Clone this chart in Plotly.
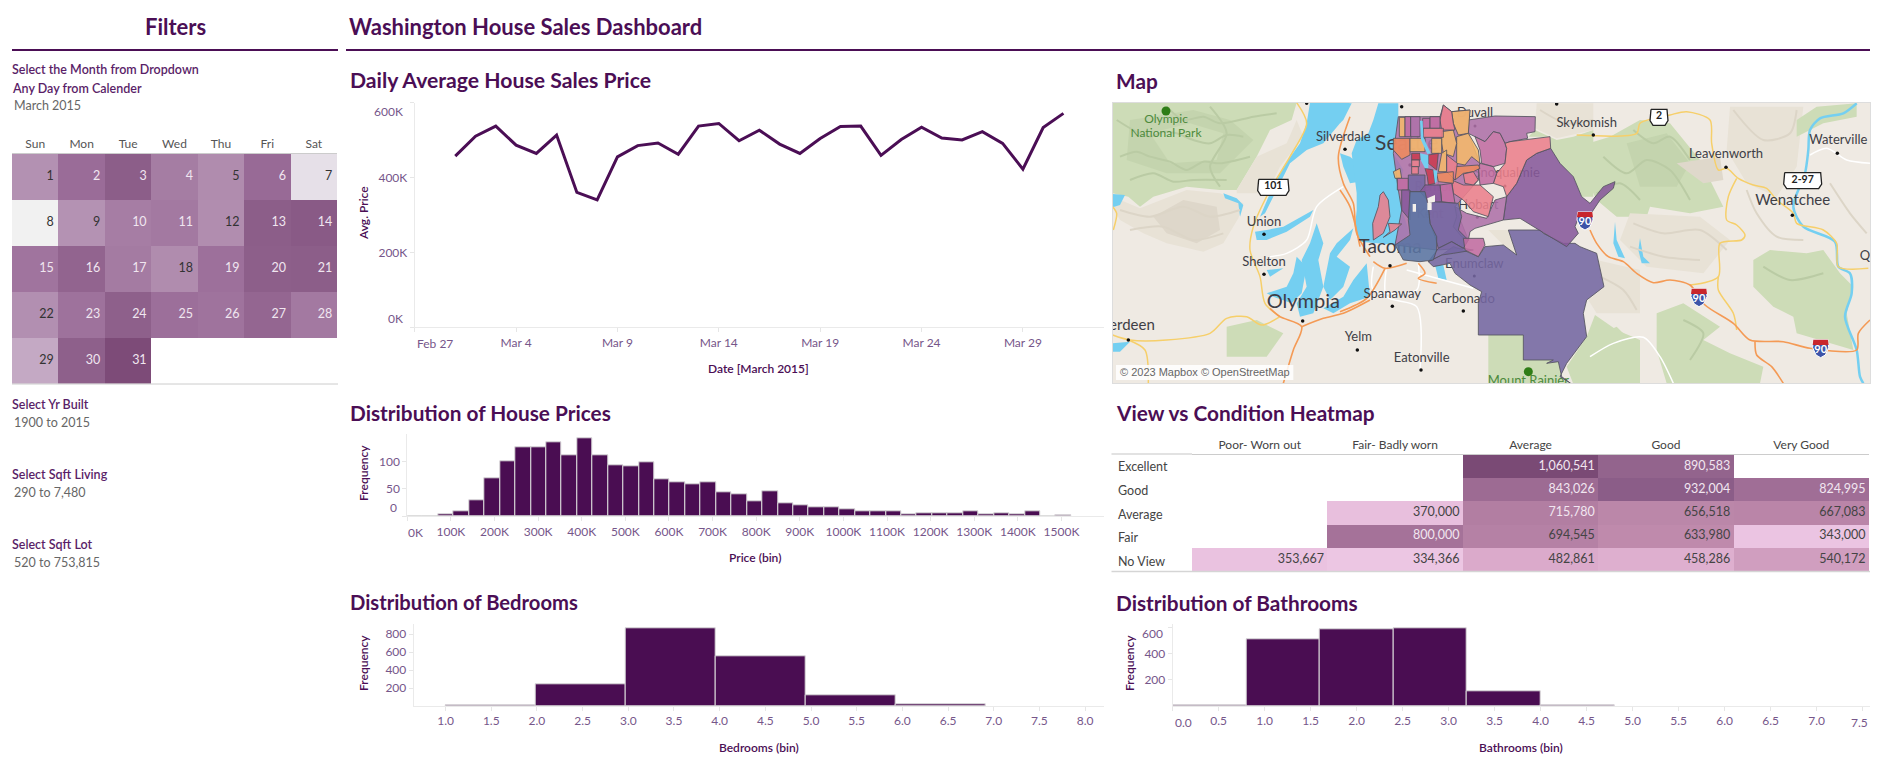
import plotly.graph_objects as go

# ---------- page size / palette ----------
W, H = 1881, 774
PURPLE = "#4B0E55"
TICK = "#76568A"
FONT = "Lato"

# ---------- data ----------
days = list(range(1, 32))
avg_price = [457, 510, 537, 486, 464, 513, 360, 340, 455, 485, 492, 462, 537, 544, 498, 526,
             489, 464, 504, 536, 537, 459, 501, 534, 505, 500, 522, 491, 422, 533, 571]
dark_text_days = [1, 5, 7, 8, 9, 12, 18, 22, 29]
weekdays = ["Sun", "Mon", "Tue", "Wed", "Thu", "Fri", "Sat"]
line_tick_dates = ["2015-02-27", "2015-03-04", "2015-03-09", "2015-03-14", "2015-03-19", "2015-03-24", "2015-03-29"]
line_tick_text = ["", "Mar 4", "Mar 9", "Mar 14", "Mar 19", "Mar 24", "Mar 29"]

price_bin = 35.4
price_counts = [0, 0, 3, 9, 29, 69, 100, 127, 127, 135, 111, 142, 111, 93, 91, 98, 67, 62, 58, 63, 43, 40,
                27, 45, 23, 20, 16, 16, 12, 9, 10, 10, 3, 5, 5, 5, 9, 3, 5, 3, 9, 0, 1]
price_ticks = [0, 100, 200, 300, 400, 500, 600, 700, 800, 900, 1000, 1100, 1200, 1300, 1400, 1500]

bedroom_bin = 0.985
bedroom_counts = [10, 240, 863, 552, 118, 18]
bedroom_ticks = [1.0, 1.5, 2.0, 2.5, 3.0, 3.5, 4.0, 4.5, 5.0, 5.5, 6.0, 6.5, 7.0, 7.5, 8.0]

bathroom_bin = 0.8
bathroom_counts = [4, 513, 587, 595, 110, 4]
bathroom_ticks = [0.0, 0.5, 1.0, 1.5, 2.0, 2.5, 3.0, 3.5, 4.0, 4.5, 5.0, 5.5, 6.0, 6.5, 7.0, 7.5]

conditions = ["Poor- Worn out", "Fair- Badly worn", "Average", "Good", "Very Good"]
views = ["Excellent", "Good", "Average", "Fair", "No View"]
heat_values = [
    [None, None, 1060541, 890583, None],
    [None, None, 843026, 932004, 824995],
    [None, 370000, 715780, 656518, 667083],
    [None, 800000, 694545, 633980, 343000],
    [353667, 334366, 482861, 458286, 540172],
]
heat_light_text = [1060541, 890583, 843026, 932004, 824995, 715780, 800000]

filter_labels = [("Select the Month from Dropdown", 70), ("Any Day from Calender", 88),
                 ("Select Yr Built", 404), ("Select Sqft Living", 474), ("Select Sqft Lot", 544)]
filter_values = [("March 2015", 106), ("1900 to 2015", 422), ("290 to 7,480", 492), ("520 to 753,815", 562)]

CROP_W = (1110, 100)
CROP_C = (1340, 100)
CROP_S = (1340, 230)
CROP_E = (1590, 100)
LAND, GREEN, GREEN2, SHADE, WATER = "#EFEAE3", "#CDDCB7", "#C4D4AE", "#E8E2D6", "#74CFF1"
ORANGE_ROAD, YELLOW_ROAD = "#F49A55", "#F6CF6A"

map_base = [
    (CROP_W, LAND, [(8, 8), (2400, 8), (2400, 860), (8, 860)]),
    (CROP_W, GREEN, [(8, 8), (560, 8), (545, 60), (480, 90), (440, 170), (380, 270), (330, 270), (230, 260), (130, 290), (90, 320), (55, 290), (8, 280)]),
    (CROP_W, GREEN2, [(60, 60), (250, 30), (360, 60), (430, 120), (330, 220), (170, 220), (50, 180)]),
    (CROP_W, GREEN, [(120, 100), (240, 70), (340, 100), (320, 180), (180, 190)]),
    (CROP_W, SHADE, [(440, 170), (530, 130), (560, 60), (580, 110), (510, 200), (470, 280), (380, 280), (380, 270)]),
    (CROP_W, SHADE, [(8, 290), (90, 325), (230, 270), (330, 280), (400, 310), (385, 355), (340, 430), (280, 455), (170, 430), (100, 400), (30, 360), (8, 320)]),
    (CROP_W, "#DED7CA", [(130, 350), (220, 300), (320, 320), (330, 390), (260, 430), (170, 400)]),
    (CROP_W, GREEN, [(350, 680), (440, 660), (520, 700), (470, 770), (350, 770)]),
    (CROP_E, GREEN, [(-70, 150), (60, 110), (150, 60), (240, 70), (330, 180), (400, 320), (300, 340), (180, 320), (170, 350), (80, 350), (20, 300), (-30, 200)]),
    (CROP_E, GREEN2, [(110, 130), (230, 100), (300, 190), (260, 260), (150, 260)]),
    (CROP_E, "#DFD8CB", [(260, 190), (390, 170), (400, 240), (340, 250)]),
    (CROP_E, SHADE, [(120, 340), (330, 350), (420, 420), (340, 520), (170, 500), (90, 420)]),
    (CROP_E, SHADE, [(420, 20), (640, 20), (620, 200), (560, 290), (470, 250), (410, 150)]),
    (CROP_E, GREEN, [(-10, 720), (80, 680), (120, 720), (60, 850), (-10, 850)]),
    (CROP_E, GREEN, [(200, 640), (280, 610), (390, 680), (340, 720), (420, 760), (520, 800), (510, 850), (230, 850), (200, 750)]),
    (CROP_E, GREEN, [(490, 480), (540, 450), (650, 460), (700, 450), (750, 520), (790, 560), (770, 640), (790, 750), (620, 700), (610, 650), (550, 620), (490, 560)]),
    (CROP_E, GREEN, [(620, 60), (680, 20), (800, 10), (800, 50), (700, 70), (660, 90), (620, 110)]),
    (CROP_C, GREEN, [(585, 90), (650, 120), (700, 110), (760, 90), (760, 290), (725, 290), (700, 230), (660, 190), (632, 145), (632, 110), (565, 110)]),
    (CROP_C, SHADE, [(590, 10), (760, 10), (760, 90), (650, 115), (585, 85)]),
    (CROP_S, GREEN, [(445, 315), (550, 315), (550, 390), (640, 390), (620, 400), (655, 395), (665, 440), (690, 462), (445, 462)]),
    (CROP_S, GREEN, [(680, 410), (740, 320), (765, 255), (830, 300), (900, 330), (900, 462), (700, 462)]),
    (CROP_S, SHADE, [(770, 90), (900, 120), (900, 250), (770, 250), (745, 210), (795, 170)]),
    (CROP_S, SHADE, [(445, 0), (505, 0), (530, 75), (490, 45)]),
    (CROP_W, WATER, [(600, 8), (720, 8), (690, 70), (640, 130), (590, 150), (540, 190), (500, 270), (465, 340), (450, 350), (480, 280), (520, 200), (570, 130), (590, 70)]),
    (CROP_W, WATER, [(435, 395), (470, 390), (520, 380), (610, 330), (600, 350), (530, 395), (470, 420), (440, 420)]),
    (CROP_W, WATER, [(620, 370), (640, 430), (625, 480), (640, 560), (625, 600), (610, 640), (570, 650), (560, 610), (590, 560), (575, 480), (600, 430)]),
    (CROP_W, WATER, [(560, 470), (590, 500), (575, 580), (545, 610), (490, 590), (470, 580), (530, 560), (550, 520)]),
    (CROP_W, WATER, [(730, 385), (680, 430), (660, 460), (640, 560), (660, 600), (700, 560), (720, 500), (680, 470), (720, 420)]),
    (CROP_W, WATER, [(770, 490), (780, 590), (720, 610), (670, 640), (640, 625), (700, 590), (730, 540)]),
    (CROP_W, WATER, [(470, 510), (520, 505), (480, 530)]),
    (CROP_W, WATER, [(340, 280), (380, 295), (400, 315), (390, 350), (385, 310), (345, 295)]),
    (CROP_W, WATER, [(8, 282), (45, 285), (30, 315), (8, 322)]),
    (CROP_W, WATER, [(8, 730), (60, 725), (30, 755), (8, 755)]),
    (CROP_W, WATER, [(690, 160), (720, 170), (780, 220), (780, 240), (720, 250), (700, 200)]),
    (CROP_C, WATER, [(115, 10), (175, 10), (175, 60), (160, 160), (190, 210), (175, 270), (185, 330), (210, 400), (170, 435), (100, 430), (60, 425), (45, 380), (50, 330), (50, 280), (40, 200), (35, 160), (50, 120), (85, 100), (100, 60)]),
    (CROP_C, WATER, [(0, 10), (35, 10), (10, 60), (0, 70)]),
    (CROP_E, WATER, [(75, 365), (80, 420), (105, 475), (85, 470), (70, 430)]),
    (CROP_E, WATER, [(150, 415), (160, 470), (180, 490), (155, 490), (145, 450)]),
    (CROP_S, WATER, [(285, 105), (310, 105), (320, 150), (295, 145)]),
]
map_ridges_green = [
    (CROP_W, [(20, 60), (70, 90), (120, 110), (160, 95), (200, 100), (250, 120), (300, 130), (350, 105), (400, 110)]),
    (CROP_W, [(30, 170), (80, 155), (120, 170), (180, 185), (230, 210), (280, 185), (330, 190), (420, 170)]),
    (CROP_W, [(170, 20), (220, 60), (280, 50), (330, 70), (430, 50), (500, 40)]),
    (CROP_W, [(60, 240), (130, 220), (190, 245), (250, 240), (350, 240)]),
    (CROP_W, [(300, 20), (350, 100), (300, 200), (330, 260)]),
    (CROP_E, [(40, 170), (110, 220), (170, 180), (240, 210), (300, 300)]),
    (CROP_E, [(130, 90), (190, 130), (240, 110), (300, 180)]),
    (CROP_E, [(20, 280), (90, 250), (150, 300)]),
    (CROP_E, [(520, 500), (600, 540), (700, 520)]),
    (CROP_E, [(280, 660), (340, 700), (300, 780)]),
]
map_ridges_tan = [
    (CROP_W, [(30, 330), (120, 350), (220, 320), (300, 350), (390, 330)]),
    (CROP_W, [(60, 390), (160, 380), (250, 420), (340, 400)]),
    (CROP_E, [(130, 370), (220, 400), (330, 390), (410, 450)]),
    (CROP_E, [(120, 440), (220, 470), (330, 480)]),
    (CROP_E, [(430, 30), (520, 120), (600, 100), (620, 30)]),
    (CROP_E, [(470, 270), (500, 340), (560, 410), (640, 420)]),
    (CROP_E, [(720, 250), (780, 340), (830, 400)]),
    (CROP_C, [(600, 30), (680, 70), (760, 60)]),
    (CROP_S, [(780, 140), (850, 180), (890, 240)]),
]

map_rivers = [
    (CROP_E, [(800, 10), (760, 40), (690, 55), (660, 90), (655, 150), (645, 220), (610, 320), (640, 380), (735, 425), (745, 500), (780, 520), (785, 580), (765, 650), (800, 750), (810, 830), (820, 850)]),
]
map_roads_orange = [
    (CROP_E, [(0, 390), (20, 430), (55, 470), (100, 485), (140, 520), (190, 548), (240, 540), (300, 555), (345, 615), (430, 670), (480, 720), (580, 725), (660, 745), (800, 750), (805, 700), (840, 660)]),
    (CROP_E, [(495, 725), (500, 765), (545, 800), (580, 850)]),
    (CROP_W, [(520, 850), (550, 750), (575, 680), (510, 650), (480, 625)]),
    (CROP_W, [(575, 680), (640, 655), (700, 640), (780, 600)]),
    (CROP_W, [(720, 50), (685, 170), (700, 250), (730, 310), (740, 400), (780, 470)]),
    (CROP_C, [(0, 270), (30, 320), (60, 440)]),
    (CROP_S, [(100, 95), (135, 115), (200, 100)]),
    (CROP_S, [(0, 245), (80, 205), (135, 115)]),
    (CROP_S, [(235, 100), (255, 130), (235, 145), (290, 160)]),
]
map_roads_yellow = [
    (CROP_E, [(-40, 105), (140, 100), (150, 70), (240, 45), (290, 35), (360, 60), (365, 130), (385, 210), (410, 205), (445, 235), (490, 255), (530, 265), (560, 300), (610, 340), (620, 370), (700, 390), (740, 430), (745, 500), (835, 505)]),
    (CROP_E, [(440, 235), (415, 290), (410, 360), (440, 375), (465, 405), (455, 420), (390, 430), (385, 530), (300, 555)]),
    (CROP_E, [(385, 530), (385, 570), (430, 640), (440, 690)]),
    (CROP_W, [(560, 8), (590, 70), (540, 170), (480, 270), (430, 380), (420, 450), (450, 530), (465, 610), (510, 650)]),
    (CROP_W, [(510, 650), (455, 675), (410, 650), (350, 655), (300, 700), (170, 720), (60, 720), (8, 705)]),
    (CROP_W, [(8, 320), (20, 340), (10, 390)]),
    (CROP_W, [(55, 720), (105, 750), (115, 850)]),
]
map_roads_white = [
    (CROP_E, [(0, 770), (70, 730), (160, 712), (210, 770), (250, 850)]),
    (CROP_E, [(660, 165), (710, 145), (770, 180), (840, 190)]),
    (CROP_W, [(700, 260), (620, 320), (590, 420), (530, 460), (480, 470)]),
    (CROP_S, [(100, 110), (100, 180), (230, 180), (235, 100)]),
    (CROP_S, [(140, 110), (140, 200), (230, 230), (240, 420)]),
    (CROP_S, [(200, 120), (400, 175)]),
]

PINK, MAG, PLUM, SLATE, BLUE = "#EC7F8C", "#C26CA2", "#AE71A8", "#7466A2", "#5A74A3"
YEL, ORG, RED, DPLUM = "#F5B86A", "#EF8A5C", "#C93A50", "#88599B"
map_zones = [
    (CROP_C, PLUM, [(175, 50), (300, 50), (310, 15), (335, 35), (390, 30), (385, 100), (420, 190), (415, 240), (345, 320), (385, 420), (370, 445), (290, 450), (165, 435), (185, 330), (175, 270), (160, 160)]),
    (CROP_S, SLATE, [(505, 0), (530, 75), (490, 45), (435, 50), (415, 80), (370, 60), (340, 50), (305, 75), (265, 95), (280, 110), (330, 100), (345, 130), (390, 165), (425, 185), (415, 220), (415, 315), (550, 315), (550, 390), (640, 390), (620, 400), (655, 395), (665, 440), (692, 460), (660, 440), (680, 400), (740, 320), (730, 250), (740, 210), (792, 170), (775, 100), (770, 70), (720, 50), (705, 40), (670, 40), (610, 10), (600, 0)]),
    (CROP_C, DPLUM, [(632, 145), (660, 190), (700, 230), (725, 290), (750, 310), (790, 260), (825, 245), (820, 265), (780, 300), (750, 345), (715, 355), (705, 380), (715, 400), (680, 440), (610, 398), (540, 355), (490, 360), (500, 290), (530, 250), (560, 180), (590, 160)]),
    (CROP_C, PLUM, [(385, 60), (465, 48), (586, 50), (585, 95), (560, 100), (563, 115), (510, 125), (495, 130), (480, 100), (460, 95), (435, 125), (405, 110), (385, 100)]),
    (CROP_C, MAG, [(405, 110), (435, 125), (460, 95), (480, 100), (495, 130), (500, 145), (495, 190), (460, 200), (425, 190), (420, 150)]),
    (CROP_C, PINK, [(495, 130), (510, 125), (630, 110), (632, 145), (590, 160), (560, 180), (530, 250), (500, 290), (490, 260), (460, 250), (470, 220), (495, 190), (500, 145)]),
    (CROP_C, PLUM, [(345, 320), (380, 340), (440, 355), (465, 300), (500, 290), (490, 360), (405, 385), (390, 395), (385, 420), (365, 410), (340, 380), (350, 350)]),
    (CROP_C, MAG, [(420, 190), (460, 200), (470, 220), (460, 250), (420, 255), (415, 205)]),
    (CROP_C, PINK, [(335, 240), (370, 255), (420, 255), (460, 290), (445, 350), (400, 335), (370, 300), (340, 280)]),
    (CROP_C, YEL, [(335, 35), (390, 30), (385, 100), (355, 105), (340, 70)]),
    (CROP_C, YEL, [(350, 110), (385, 100), (415, 150), (420, 190), (395, 170), (375, 195), (350, 190)]),
    (CROP_C, YEL, [(305, 95), (340, 90), (350, 130), (340, 170), (310, 160), (305, 130)]),
    (CROP_C, PINK, [(310, 15), (335, 35), (340, 70), (345, 90), (305, 90), (300, 60)]),
    (CROP_C, ORG, [(345, 200), (415, 195), (420, 205), (400, 215), (370, 220), (345, 240)]),
    (CROP_C, PINK, [(370, 222), (400, 215), (415, 240), (400, 255), (375, 250)]),
    (CROP_C, YEL, [(178, 52), (195, 52), (195, 110), (178, 110)]),
    (CROP_C, MAG, [(195, 50), (212, 50), (212, 110), (195, 110)]),
    (CROP_C, PLUM, [(212, 50), (240, 50), (240, 110), (212, 110)]),
    (CROP_C, MAG, [(248, 55), (270, 55), (270, 85), (248, 85)]),
    (CROP_C, MAG, [(270, 50), (300, 50), (300, 85), (270, 85)]),
    (CROP_C, PINK, [(250, 85), (310, 85), (310, 112), (250, 112)]),
    (CROP_C, ORG, [(160, 115), (210, 115), (210, 165), (185, 178), (160, 150)]),
    (CROP_C, YEL, [(210, 115), (255, 115), (255, 155), (210, 155)]),
    (CROP_C, YEL, [(275, 115), (305, 115), (305, 160), (275, 160)]),
    (CROP_C, YEL, [(305, 160), (320, 150), (320, 215), (295, 215)]),
    (CROP_C, PINK, [(320, 165), (352, 190), (345, 240), (320, 215)]),
    (CROP_C, RED, [(265, 165), (295, 160), (290, 210), (265, 190)]),
    (CROP_C, RED, [(215, 160), (240, 160), (240, 180), (215, 180)]),
    (CROP_C, RED, [(255, 205), (280, 210), (285, 250), (265, 255), (262, 230)]),
    (CROP_C, ORG, [(290, 220), (340, 215), (340, 250), (295, 245)]),
    (CROP_C, YEL, [(160, 215), (180, 205), (185, 235), (165, 235)]),
    (CROP_C, PINK, [(215, 180), (238, 180), (238, 200), (215, 200)]),
    (CROP_C, PINK, [(215, 200), (235, 200), (235, 222), (215, 222)]),
    (CROP_C, MAG, [(172, 235), (205, 235), (205, 270), (172, 270)]),
    (CROP_C, SLATE, [(205, 225), (255, 225), (255, 275), (205, 275)]),
    (CROP_C, DPLUM, [(185, 270), (210, 270), (210, 360), (185, 330)]),
    (CROP_C, MAG, [(300, 255), (335, 250), (345, 310), (305, 305)]),
    (CROP_C, DPLUM, [(255, 255), (300, 255), (305, 305), (270, 310), (240, 275)]),
    (CROP_C, SLATE, [(280, 305), (355, 310), (365, 350), (355, 390), (385, 420), (370, 445), (335, 425), (295, 445), (285, 410), (270, 370), (265, 320)]),
    (CROP_C, SLATE, [(295, 445), (335, 425), (370, 445), (400, 450), (340, 460), (305, 465), (265, 485), (290, 450)]),
    (CROP_C, BLUE, [(210, 275), (255, 275), (265, 320), (270, 370), (290, 410), (290, 450), (280, 480), (240, 485), (190, 480), (165, 435), (210, 405), (205, 360)]),
    (CROP_S, MAG, [(370, 25), (430, 25), (435, 45), (415, 80), (375, 60)]),
    (CROP_C, PINK, [(130, 275), (145, 300), (150, 350), (130, 400), (100, 420), (98, 370), (115, 320), (120, 285)]),
    (CROP_C, PINK, [(145, 370), (185, 372), (165, 390), (130, 412), (150, 395)]),
]
map_zone_water = [
    (CROP_C, [(240, 62), (248, 62), (250, 112), (262, 140), (272, 160), (262, 162), (243, 120)]),
    (CROP_C, [(240, 160), (265, 165), (265, 205), (255, 205), (243, 182)]),
    (CROP_C, [(280, 210), (292, 212), (290, 245), (285, 250)]),
]
map_holes = [
    (CROP_C, [(262, 295), (285, 285), (285, 305), (265, 310)]),
    (CROP_C, [(218, 312), (228, 312), (228, 335), (218, 335)]),
    (CROP_C, [(262, 308), (275, 308), (275, 330), (262, 330)]),
]
map_labels_dark = [
    (CROP_W, 700, 113, "Silverdale", 13), (CROP_W, 462, 368, "Union", 13), (CROP_W, 462, 487, "Shelton", 13),
    (CROP_W, 580, 610, "Olympia", 20), (CROP_W, 38, 678, "Aberdeen", 15), (CROP_W, 745, 713, "Yelm", 13),
    (CROP_C, 200, 135, "Seattle", 21), (CROP_S, 150, 55, "Tacoma", 19), (CROP_S, 157, 195, "Spanaway", 13),
    (CROP_S, 370, 208, "Carbonado", 13), (CROP_S, 245, 385, "Eatonville", 13), (CROP_C, 405, 40, "Duvall", 13),
    (CROP_C, 740, 72, "Skykomish", 13), (CROP_E, 408, 165, "Leavenworth", 13), (CROP_E, 608, 303, "Wenatchee", 15),
    (CROP_E, 745, 122, "Waterville", 13), (CROP_E, 825, 470, "Q", 13), (CROP_S, 403, 105, "Enumclaw", 13),
    (CROP_C, 270, 345, "Kent", 13), (CROP_C, 285, 262, "Renton", 13), (CROP_C, 415, 318, "Hobart", 13),
    (CROP_C, 500, 222, "Snoqualmie", 13),
]
map_labels_green = [
    (CROP_W, 168, 60, "Olympic", 12), (CROP_W, 168, 102, "National Park", 12), (CROP_S, 565, 455, "Mount Rainier", 13),
]
map_towns = [
    (CROP_W, 705, 148), (CROP_W, 462, 403), (CROP_W, 462, 523), (CROP_W, 578, 663), (CROP_W, 55, 720), (CROP_W, 742, 750),
    (CROP_W, 590, 10), (CROP_C, 185, 20), (CROP_C, 650, 12), (CROP_C, 760, 105), (CROP_C, 210, 195), (CROP_C, 285, 297),
    (CROP_S, 150, 107), (CROP_S, 157, 229), (CROP_S, 370, 243), (CROP_S, 243, 420), (CROP_E, 408, 202), (CROP_E, 742, 160),
    (CROP_E, 607, 346),
]
map_towns_under = [(CROP_C, 405, 78), (CROP_C, 495, 258), (CROP_C, 412, 352), (CROP_S, 403, 138)]
interstates = [(CROP_E, 327, 590, "90"), (CROP_E, 692, 743, "90"), (CROP_C, 735, 360, "90")]
state_shields = [(CROP_W, 490, 260, "101"), (CROP_E, 207, 50, "2"), (CROP_E, 638, 240, "2-97")]
map_trees = [(CROP_W, 168, 33), (CROP_S, 565, 425)]


# ---------- helpers ----------
def xdom(a, b):
    return [a / W, b / W]


def ydom(top, bottom):
    return [1 - bottom / H, 1 - top / H]


annotations, shapes = [], []


def label(x, y, text, size=12, color=PURPLE, anchor="left", weight=400, angle=0):
    nudge = {"left": -2, "right": 2, "center": 0}[anchor]
    annotations.append(dict(x=(x + nudge) / W, y=1 - y / H, xref="paper", yref="paper", text=text, showarrow=False,
                            xanchor=anchor, yanchor="middle", textangle=angle, align=anchor,
                            font=dict(family=FONT, size=size, color=color, weight=weight)))


def rule(x0, x1, y, color=PURPLE, width=2):
    shapes.append(dict(type="line", xref="paper", yref="paper", x0=x0 / W, x1=x1 / W, y0=1 - y / H, y1=1 - y / H,
                       line=dict(color=color, width=width)))


def conv(crop, pts):
    return [crop[0] + p[0] / 3 for p in pts], [crop[1] + p[1] / 3 for p in pts]


fig = go.Figure()

# ---------- headers ----------
label(175, 27, "Filters", 22, PURPLE, "center", 700)
label(349, 27, "Washington House Sales Dashboard", 22, PURPLE, "left", 700)
rule(12, 338, 50)
rule(346, 1870, 50)
for t, y in filter_labels:
    label(12, y, t, 12.5, "#5A1E68", "left", 600)
for t, y in filter_values:
    label(14, y, t, 12.5, "#666666")
TITLE = 20.8
label(350, 80, "Daily Average House Sales Price", 21.2, PURPLE, "left", 700)
label(1116, 80, "Map", TITLE, PURPLE, "left", 700)
label(350, 412, "Distribution of House Prices", TITLE, PURPLE, "left", 700)
label(1116, 412, "View vs Condition Heatmap", TITLE, PURPLE, "left", 700)
label(350, 602, "Distribution of Bedrooms", 20.2, PURPLE, "left", 700)
label(1116, 602, "Distribution of Bathrooms", TITLE, PURPLE, "left", 700)

# ---------- calendar ----------
cal_z = [[None] * 7 for _ in range(5)]
tx, ty, tt, tc = [], [], [], []
for d, v in zip(days, avg_price):
    r, c = (d - 1) // 7, (d - 1) % 7
    cal_z[r][c] = v
    tx.append(c + 0.4)
    ty.append(r)
    tt.append(str(d))
    tc.append("#333333" if d in dark_text_days else "#F0E6F0")
cal_scale = [[0, "#F1F1F1"], [(360 - 340) / 231, "#E6E0E8"], [(422 - 340) / 231, "#C4A9C4"], [(464 - 340) / 231, "#B08CAE"],
             [(510 - 340) / 231, "#9A6C98"], [(537 - 340) / 231, "#8C5E89"], [1, "#7D4B78"]]
fig.add_trace(go.Heatmap(z=cal_z, x=list(range(7)), y=list(range(5)), colorscale=cal_scale, zmin=340, zmax=571,
                         showscale=False, xaxis="x", yaxis="y", hoverinfo="skip"))
fig.add_trace(go.Scatter(x=tx, y=ty, text=tt, mode="text", textposition="middle left", xaxis="x", yaxis="y",
                         textfont=dict(family=FONT, size=12.5, color=tc), hoverinfo="skip"))
rule(12, 338, 384, "#CCCCCC", 1)

# ---------- line chart ----------
dates = ["2015-03-%02d" % d for d in days]
fig.add_trace(go.Scatter(x=dates, y=[v * 1000 for v in avg_price], mode="lines", xaxis="x2", yaxis="y2",
                         line=dict(color=PURPLE, width=3), hoverinfo="skip"))
label(435, 343.7, "Feb 27", 12, TICK, "center")
label(403, 111.7, "600K", 12, TICK, "right")
label(403, 318.7, "0K", 12, TICK, "right")
label(758, 369, "Date [March 2015]", 12, PURPLE, "center", 600)
label(363, 213, "Avg. Price", 12, PURPLE, "center", 600, -90)

# ---------- histograms ----------
PBAR = dict(color="#4A0D52", line=dict(color="#DADADA", width=1))


def hist(counts, size, start, ax, ay):
    fig.add_trace(go.Bar(x=[start + i * size for i in range(len(counts))], y=counts, width=size, offset=0,
                         marker=PBAR, xaxis=ax, yaxis=ay, hoverinfo="skip"))


hist(price_counts, price_bin * 1000, 0, "x4", "y4")
hist(bedroom_counts, bedroom_bin, 1.0, "x5", "y5")
hist(bathroom_counts, bathroom_bin, 0.0, "x7", "y7")

label(415.6, 532.7, "0K", 12, TICK, "center")
label(396.5, 507.7, "0", 12, TICK, "right")
label(755, 557.7, "Price (bin)", 12, PURPLE, "center", 600)
label(363, 473, "Frequency", 12, PURPLE, "center", 600, -90)
label(758.5, 747.7, "Bedrooms (bin)", 12, PURPLE, "center", 600)
label(363, 663, "Frequency", 12, PURPLE, "center", 600, -90)
label(1521, 747.7, "Bathrooms (bin)", 12, PURPLE, "center", 600)
label(1129, 663, "Frequency", 12, PURPLE, "center", 600, -90)
label(1162.7, 633.7, "600", 12, TICK, "right")
label(1183, 722.7, "0.0", 12, TICK, "center")
label(1859, 722.7, "7.5", 12, TICK, "center")

# ---------- heatmap ----------
heat_scale_pts = [(334366, "#ECC6E3"), (482861, "#DBAACB"), (640000, "#BE89AB"), (800000, "#A57299"), (932004, "#8B5D88"), (1060541, "#7A4A75")]
lo, hi = heat_scale_pts[0][0], heat_scale_pts[-1][0]
fig.add_trace(go.Heatmap(z=heat_values, x=list(range(5)), y=list(range(5)), zmin=lo, zmax=hi, showscale=False,
                         colorscale=[[(v - lo) / (hi - lo), c] for v, c in heat_scale_pts], xaxis="x6", yaxis="y6",
                         hoverinfo="skip"))
hx, hy, ht, hc = [], [], [], []
for r, row in enumerate(heat_values):
    for c, v in enumerate(row):
        if v is not None:
            hx.append(c + 0.475)
            hy.append(r)
            ht.append(f"{v:,}")
            hc.append("#F1E6F0" if v in heat_light_text else "#444444")
fig.add_trace(go.Scatter(x=hx, y=hy, text=ht, mode="text", textposition="middle left", xaxis="x6", yaxis="y6",
                         textfont=dict(family=FONT, size=12.5, color=hc), hoverinfo="skip"))
for name, y in zip(views, [466.7, 490.7, 514, 537.7, 561]):
    label(1118, y, name, 12.5, "#444444")
rule(1111.5, 1192, 454, "#E2E2E2", 2)
rule(1111.5, 1870, 571.5, "#D5D5D5", 1.5)


# ---------- map ----------
def poly(crop, pts, fill, edge=None, width=1):
    xs, ys = conv(crop, pts)
    fig.add_trace(go.Scatter(x=xs + xs[:1], y=ys + ys[:1], mode="lines", fill="toself", fillcolor=fill,
                             line=dict(color=edge or "rgba(0,0,0,0)", width=width), xaxis="x3", yaxis="y3",
                             hoverinfo="skip"))


def path(crop, pts, color, width):
    xs, ys = conv(crop, pts)
    fig.add_trace(go.Scatter(x=xs, y=ys, mode="lines", line=dict(color=color, width=width, shape="spline", smoothing=0.8),
                             xaxis="x3", yaxis="y3", hoverinfo="skip"))


def map_text(items, color):
    for crop, x, y, t, size in items:
        fig.add_trace(go.Scatter(x=[crop[0] + x / 3], y=[crop[1] + y / 3], text=[t], mode="text", xaxis="x3", yaxis="y3",
                                 textfont=dict(family=FONT, size=size, color=color), hoverinfo="skip"))


for crop, color, pts in map_base:
    poly(crop, pts, color)
for crop, pts in map_ridges_green:
    path(crop, pts, "#BACBA4", 2)
for crop, pts in map_ridges_tan:
    path(crop, pts, "#DCD5C7", 2)
for crop, pts in map_rivers:
    path(crop, pts, WATER, 2.5)
for crop, pts in map_roads_white:
    path(crop, pts, "#FFFFFF", 1.5)
for crop, pts in map_roads_yellow:
    path(crop, pts, YELLOW_ROAD, 1.5)
for crop, pts in map_roads_orange:
    path(crop, pts, ORANGE_ROAD, 1.6)


def dots(items, size):
    fig.add_trace(go.Scatter(x=[c[0] + x / 3 for c, x, y in items], y=[c[1] + y / 3 for c, x, y in items], mode="markers",
                             marker=dict(color="#111111", size=size), xaxis="x3", yaxis="y3", hoverinfo="skip"))


dots(map_towns, 3.5)
dots(map_towns_under, 3)
map_text(map_labels_dark, "#3E3E46")
map_text(map_labels_green, "#4C8A3C")
fig.add_trace(go.Scatter(x=[c[0] + x / 3 for c, x, y in map_trees], y=[c[1] + y / 3 for c, x, y in map_trees], mode="markers",
                         marker=dict(color="#2E7D16", size=9, symbol="circle"), xaxis="x3", yaxis="y3", hoverinfo="skip"))
for crop, color, pts in map_zones:
    r, g, b = int(color[1:3], 16), int(color[3:5], 16), int(color[5:7], 16)
    poly(crop, pts, f"rgba({r},{g},{b},0.88)", "rgba(85,85,95,0.85)", 1)
for crop, pts in map_zone_water:
    poly(crop, pts, WATER)
for crop, pts in map_holes:
    poly(crop, pts, "#F4F0EA")

SHIELD = [(-22, -24), (22, -24), (24, 0), (14, 22), (0, 30), (-14, 22), (-24, 0)]
BAND = [(-22, -24), (22, -24), (24, -8), (-24, -8)]
for crop, x, y, t in interstates:
    poly(crop, [(x + a, y + b) for a, b in SHIELD], "#3D54A8", "#FFFFFF", 1)
    poly(crop, [(x + a, y + b) for a, b in BAND], "#C8262C")
    fig.add_trace(go.Scatter(x=[crop[0] + x / 3], y=[crop[1] + (y + 8) / 3], text=[t], mode="text", xaxis="x3", yaxis="y3",
                             textfont=dict(family=FONT, size=11, color="#FFFFFF", weight=700), hoverinfo="skip"))
for crop, x, y, t in state_shields:
    half = 14 + 10 * len(t)
    poly(crop, [(x - half, y - 22), (x + half, y - 22), (x + half + 3, y + 12), (x + half - 6, y + 26), (x - half + 6, y + 26), (x - half - 3, y + 12)],
         "#FFFFFF", "#222222", 1.3)
    fig.add_trace(go.Scatter(x=[crop[0] + x / 3], y=[crop[1] + y / 3], text=[t], mode="text", xaxis="x3", yaxis="y3",
                             textfont=dict(family=FONT, size=10.5, color="#222222", weight=700), hoverinfo="skip"))
poly(CROP_W, [(18, 795), (550, 795), (550, 840), (18, 840)], "rgba(255,255,255,0.85)")
fig.add_trace(go.Scatter(x=[CROP_W[0] + 30 / 3], y=[CROP_W[1] + 820 / 3], text=["© 2023 Mapbox © OpenStreetMap"], mode="text",
                         textposition="middle right", xaxis="x3", yaxis="y3",
                         textfont=dict(family="Liberation Sans", size=11, color="#666666"), hoverinfo="skip"))

# ---------- layout ----------
HIDE = dict(showgrid=False, zeroline=False, showticklabels=False, ticks="")
AX = dict(showgrid=False, zeroline=False, showline=True, linecolor="#EAEAEA", linewidth=1, ticks="outside", ticklen=4,
          tickcolor="#E6E6E6", tickfont=dict(family=FONT, size=12, color=TICK))

layout = dict(
    width=W, height=H, margin=dict(l=0, r=0, t=0, b=0), paper_bgcolor="white", plot_bgcolor="white", showlegend=False,
    annotations=annotations, shapes=shapes, bargap=0, font=dict(family=FONT), hovermode=False,
    # calendar
    xaxis=dict(domain=xdom(12, 337), range=[-0.5, 6.5], side="top", tickvals=list(range(7)), ticktext=weekdays,
               showgrid=False, zeroline=False, showline=True, linecolor="#CCCCCC", ticks="",
               tickfont=dict(family=FONT, size=12, color="#555555"), anchor="y"),
    yaxis=dict(domain=ydom(153.7, 384), range=[4.5, -0.5], anchor="x", **HIDE),
    # line chart
    xaxis2=dict(domain=xdom(414.7, 1104), type="date", range=["2015-02-27", "2015-04-02"], tickvals=line_tick_dates,
                ticktext=line_tick_text, anchor="y2", **AX),
    yaxis2=dict(domain=ydom(102.5, 327.3), range=[0, 600000], tickvals=[0, 200000, 400000, 600000],
                ticktext=["", "200K", "400K", ""], anchor="x2", **AX),
    # map
    xaxis3=dict(domain=xdom(1112.5, 1870), range=[1112.5, 1870], anchor="y3", showline=True, mirror=True,
                linecolor="#DDDDDD", **HIDE),
    yaxis3=dict(domain=ydom(103, 383), range=[383, 103], anchor="x3", showline=True, mirror=True,
                linecolor="#DDDDDD", **HIDE),
    # prices
    xaxis4=dict(domain=xdom(407.3, 1104), range=[0, 1597600], tickvals=[v * 1000 for v in price_ticks],
                ticktext=[""] + [f"{v}K" for v in price_ticks[1:]], anchor="y4", **AX),
    yaxis4=dict(domain=ydom(434.3, 516.3), range=[0, 150], tickvals=[0, 50, 100], ticktext=["", "50", "100"],
                anchor="x4", **AX),
    # bedrooms
    xaxis5=dict(domain=xdom(413.7, 1104), range=[0.651, 8.207], tickvals=bedroom_ticks,
                ticktext=[f"{v:.1f}" for v in bedroom_ticks], anchor="y5", **AX),
    yaxis5=dict(domain=ydom(624.3, 706), range=[0, 910], tickvals=[200, 400, 600, 800], anchor="x5", **AX),
    # heatmap
    xaxis6=dict(domain=xdom(1192, 1869), range=[-0.5, 4.5], side="top", tickvals=list(range(5)), ticktext=conditions,
                showgrid=False, zeroline=False, showline=True, linecolor="#CCCCCC", ticks="",
                tickfont=dict(family=FONT, size=12, color="#444444"), anchor="y6"),
    yaxis6=dict(domain=ydom(455, 571), range=[4.5, -0.5], anchor="x6", **HIDE),
    # bathrooms
    xaxis7=dict(domain=xdom(1172.7, 1870), range=[0, 7.58], tickvals=bathroom_ticks,
                ticktext=[""] + [f"{v:.1f}" for v in bathroom_ticks[1:-1]] + [""], anchor="y7", **AX),
    yaxis7=dict(domain=ydom(624.3, 706), range=[0, 628], tickvals=[200, 400, 600], ticktext=["200", "400", ""],
                anchor="x7", **AX),
)
fig.update_layout(**layout)
fig.write_html("out.html", config={"displayModeBar": False},
               post_script="document.body.style.margin='0';document.body.style.overflow='hidden';")
